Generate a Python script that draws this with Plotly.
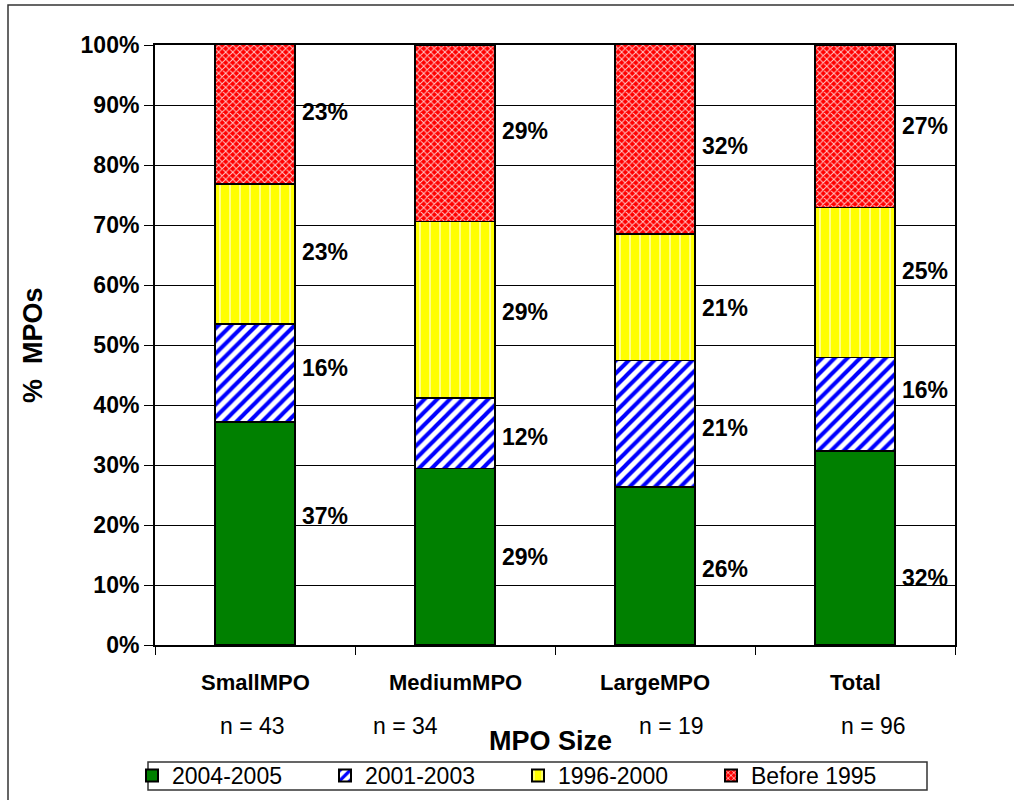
import plotly.graph_objects as go

# ---- data ----
categories = ["SmallMPO", "MediumMPO", "LargeMPO", "Total"]
n_counts = [43, 34, 19, 96]
series_names = ["2004-2005", "2001-2003", "1996-2000", "Before 1995"]
v_2004_2005 = [37.2, 29.4, 26.3, 32.3]
v_2001_2003 = [16.3, 11.8, 21.1, 15.6]
v_1996_2000 = [23.3, 29.4, 21.1, 25.0]
v_before_1995 = [23.3, 29.4, 31.6, 27.1]
y_ticks = [0, 10, 20, 30, 40, 50, 60, 70, 80, 90, 100]

series_values = [v_2004_2005, v_2001_2003, v_1996_2000, v_before_1995]

FONT = "Liberation Sans, Arial, sans-serif"
PX_L, PX_T, PW, PH = 155, 45, 800, 600  # plot area in pixels


def px_x(px):
    return (px - PX_L) / PW


def px_y(py):
    return (PX_T + PH - py) / PH


# small vertical nudges (pixels) of the value labels, per category then series
label_nudge = [
    [17, 5, 2, 2],
    [0, -4, -2, 2],
    [-3, -4, -11, -7],
    [-30, 14, 12, 0],
]

styles = [
    dict(color="#008000", pattern=dict(shape="")),
    dict(color="#FFFFFF", pattern=dict(shape="/", fgcolor="#0000FF", bgcolor="#FFFFFF",
                                       size=9, solidity=0.45, fillmode="replace")),
    dict(color="#FFFF00", pattern=dict(shape="|", fgcolor="#FFFFE0", bgcolor="#FFFF00",
                                       size=10, solidity=0.12, fillmode="replace")),
    dict(color="#FF0000", pattern=dict(shape="x", fgcolor="#FFC8C8", bgcolor="#FF0000",
                                       size=5, solidity=0.35, fillmode="replace")),
]

fig = go.Figure()
for name, vals, st in zip(series_names, series_values, styles):
    fig.add_trace(go.Bar(
        x=categories, y=[v / 100 for v in vals], name=name,
        width=0.4,
        marker=dict(color=st["color"], pattern=st["pattern"],
                    line=dict(color="black", width=1.5)),
    ))

annotations = []
# segment value labels
for ci, cat in enumerate(categories):
    base = 0.0
    for si, vals in enumerate(series_values):
        v = vals[ci]
        annotations.append(dict(
            x=ci + 0.2, y=(base + v / 2) / 100, xref="x", yref="y",
            text=f"{round(v)}%", showarrow=False, xanchor="left", yanchor="middle",
            xshift=5, yshift=label_nudge[ci][si],
            font=dict(family=FONT, size=23, color="black", weight="bold"),
        ))
        base += v

# category labels
for ci, cat in enumerate(categories):
    annotations.append(dict(
        x=ci, y=px_y(682), xref="x", yref="paper", text=cat, showarrow=False,
        xanchor="center", yanchor="middle",
        font=dict(family=FONT, size=22, color="black", weight="bold"),
    ))

# n labels
n_label_px = [252, 405, 671, 873]
for px, n in zip(n_label_px, n_counts):
    annotations.append(dict(
        x=px_x(px), y=px_y(726), xref="paper", yref="paper", text=f"n = {n}",
        showarrow=False, xanchor="center", yanchor="middle",
        font=dict(family=FONT, size=23, color="black"),
    ))

# axis titles
annotations.append(dict(
    x=px_x(550), y=px_y(741), xref="paper", yref="paper", text="MPO Size",
    showarrow=False, xanchor="center", yanchor="middle",
    font=dict(family=FONT, size=27, color="black", weight="bold"),
))
annotations.append(dict(
    x=px_x(33), y=0.5, xref="paper", yref="paper", text="%  MPOs",
    showarrow=False, xanchor="center", yanchor="middle", textangle=-90,
    font=dict(family=FONT, size=27, color="black", weight="bold"),
))

shapes = [
    # outer chart border (right/bottom edges fall outside the canvas)
    dict(type="rect", xref="paper", yref="paper",
         x0=px_x(8), x1=px_x(1200), y0=px_y(900), y1=px_y(5),
         line=dict(color="#333333", width=1.5), fillcolor="rgba(0,0,0,0)", layer="below"),
    # legend box
    dict(type="rect", xref="paper", yref="paper",
         x0=px_x(148), x1=px_x(927), y0=px_y(790), y1=px_y(762),
         line=dict(color="#333333", width=1.5), fillcolor="white", layer="below"),
]

fig.update_layout(
    width=1014, height=800,
    margin=dict(l=PX_L, r=1014 - PX_L - PW, t=PX_T, b=800 - PX_T - PH, pad=0, autoexpand=False),
    barmode="stack",
    bargap=0.6,
    plot_bgcolor="white", paper_bgcolor="white",
    font=dict(family=FONT, color="black"),
    showlegend=True,
    legend=dict(
        orientation="h", x=px_x(132), y=px_y(754),
        xanchor="left", yanchor="top",
        borderwidth=0, bgcolor="rgba(0,0,0,0)",
        font=dict(family=FONT, size=23, color="black"),
        traceorder="normal", entrywidth=148, entrywidthmode="pixels",
        tracegroupgap=0, itemsizing="constant",
    ),
    annotations=annotations,
    shapes=shapes,
)

fig.update_xaxes(
    type="category", range=[-0.5, 3.5],
    showline=True, linecolor="black", linewidth=2, mirror=True,
    ticks="outside", tickson="boundaries", ticklen=8, tickcolor="black", tickwidth=1,
    showticklabels=False, showgrid=False, zeroline=False,
)
fig.update_yaxes(
    range=[0, 1], tickvals=[t / 100 for t in y_ticks],
    ticktext=[f"{t}%" for t in y_ticks],
    showline=True, linecolor="black", linewidth=2, mirror=True,
    ticks="outside", ticklen=9, tickcolor="black", tickwidth=1,
    showgrid=True, gridcolor="black", gridwidth=1, zeroline=False,
    tickfont=dict(family=FONT, size=23, color="black", weight="bold"),
)

fig.write_html(
    "out.html",
    config={"responsive": False, "displayModeBar": False},
    post_script=(
        "document.documentElement.style.margin='0';"
        "document.documentElement.style.overflow='hidden';"
        "document.body.style.margin='0';"
        "document.body.style.padding='0';"
        "document.body.style.overflow='hidden';"
    ),
)
